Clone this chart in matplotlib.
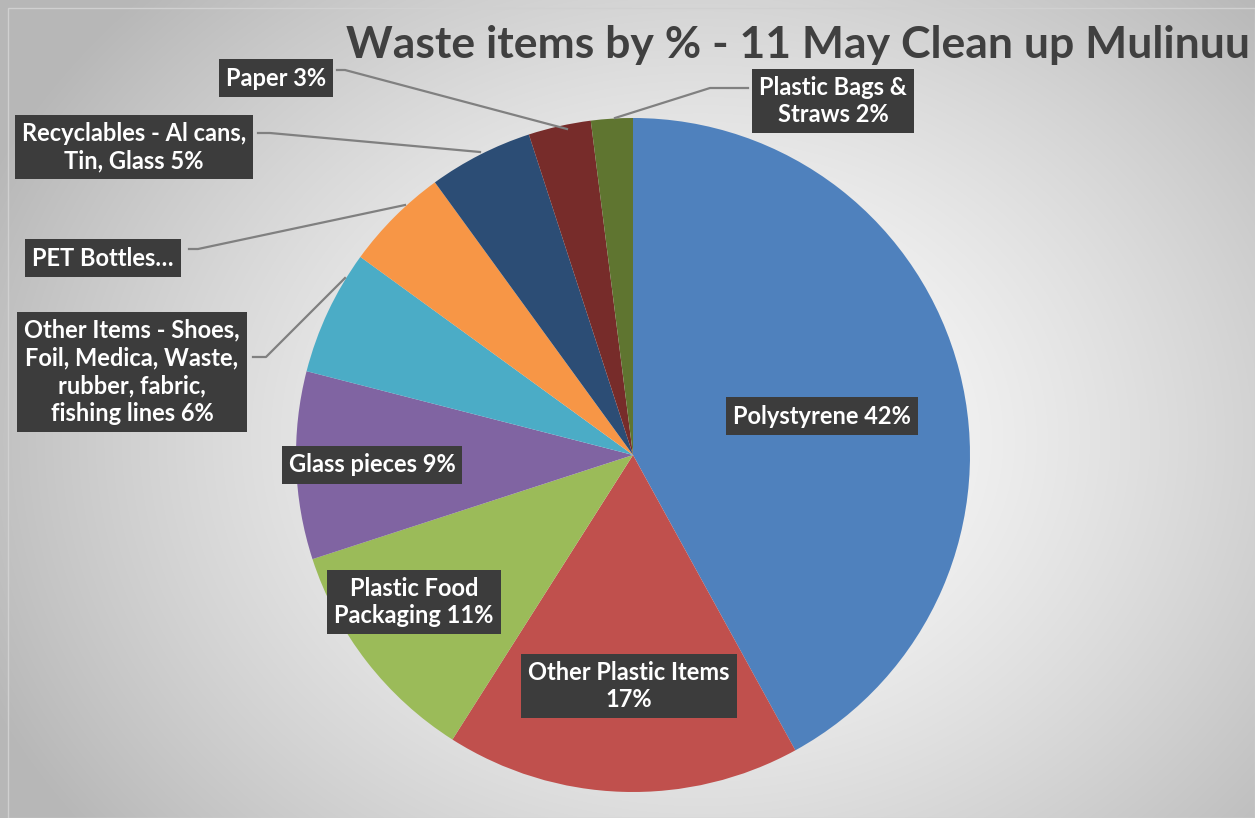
import numpy as np
import matplotlib.pyplot as plt

plt.rcParams['font.family'] = ['Lato', 'DejaVu Sans']
plt.rcParams['hatch.linewidth'] = 1.5
plt.rcParams['hatch.color'] = '#555555'

# data
categories = ["Polystyrene", "Other Plastic Items", "Plastic Food Packaging", "Glass pieces",
              "Other Items - Shoes, Foil, Medica, Waste, rubber, fabric, fishing lines",
              "PET Bottles", "Recyclables - Al cans, Tin, Glass", "Paper", "Plastic Bags & Straws"]
values = [42, 17, 11, 9, 6, 5, 5, 3, 2]
label_texts = ["Polystyrene 42%", "Other Plastic Items\n17%", "Plastic Food\nPackaging 11%",
               "Glass pieces 9%", "Other Items - Shoes,\nFoil, Medica, Waste,\nrubber, fabric,\nfishing lines 6%",
               "PET Bottles…", "Recyclables - Al cans,\nTin, Glass 5%", "Paper 3%", "Plastic Bags &\nStraws 2%"]
colors = ['#4F81BD', '#C0504D', '#9BBB59', '#8064A2', '#4BACC6',
          '#F79646', '#2C4D75', '#772C2A', '#5F7530']

W, H = 1255, 818
fig = plt.figure(figsize=(W / 100, H / 100), dpi=100)
ax = fig.add_axes([0, 0, 1, 1])

# radial gradient background
yy, xx = np.mgrid[0:H, 0:W]
d = np.sqrt(((xx - 700) / 760.0) ** 2 + ((yy - (H - 440)) / 620.0) ** 2)
g = np.clip(1.0 - 0.27 * d ** 1.4, 0.72, 1.0)
ax.imshow(np.dstack([g, g, g]), extent=(0, W, 0, H), origin='lower', zorder=0)
ax.add_patch(plt.Rectangle((8, 0), W - 8, H - 8, fill=False, ec='#d0d0d0', lw=1, zorder=1))

cx, cy, r = 633, H - 455, 337
wedges, _ = ax.pie(values, colors=colors, startangle=90, counterclock=False,
                   center=(cx, cy), radius=r, frame=True,
                   wedgeprops=dict(linewidth=0))
ax.set_xlim(0, W)
ax.set_ylim(0, H)
ax.set_aspect('equal')
ax.axis('off')

# label box centres (pixel coords, y from top)
label_pos = [(822, 416), (629, 686), (414, 602), (372, 465), (132, 372),
             (103, 258), (134, 147), (276, 78), (833, 101)]

# leader lines for outside labels: (slice index, list of points)
leaders = {
    4: [(253, 357), (266, 357), (345, 278)],
    5: [(189, 249), (198, 249), (405, 205)],
    6: [(258, 133), (270, 133), (480, 152)],
    7: [(337, 70), (345, 70), (567, 129)],
    8: [(748, 88), (710, 88), (615, 118)],
}
for i, pts in leaders.items():
    xs = [p[0] for p in pts]
    ys = [H - p[1] for p in pts]
    ax.plot(xs, ys, color='#808080', lw=1.6, zorder=3)

for txt, (x, y) in zip(label_texts, label_pos):
    ax.text(x, H - y, txt, ha='center', va='center', fontsize=17, fontweight='bold',
            color='white', linespacing=1.25, zorder=5,
            bbox=dict(boxstyle='square,pad=0.3', facecolor='#3c3c3c',
                      edgecolor='#3c3c3c', hatch='..', linewidth=0))

ax.text(1250, H - 45, "Waste items by % - 11 May Clean up Mulinuu", ha='right', va='center',
        fontsize=32, fontweight='bold', color='#404040', zorder=5)

fig.savefig('out.png', dpi=100)
